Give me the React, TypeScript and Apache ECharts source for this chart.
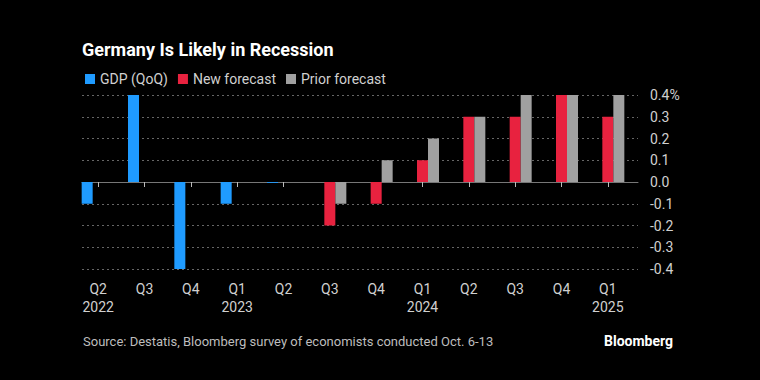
import React, { useEffect, useRef } from "react";
import * as echarts from "echarts";

const quarters = ["Q2", "Q3", "Q4", "Q1", "Q2", "Q3", "Q4", "Q1", "Q2", "Q3", "Q4", "Q1"];
const years = ["2022", "", "", "2023", "", "", "", "2024", "", "", "", "2025"];
const gdp: (number | null)[] = [-0.1, 0.4, -0.4, -0.1, -0.004, null, null, null, null, null, null, null];
const newForecast: (number | null)[] = [null, null, null, null, null, -0.2, -0.1, 0.1, 0.3, 0.3, 0.4, 0.3];
const priorForecast: (number | null)[] = [null, null, null, null, null, -0.1, 0.1, 0.2, 0.3, 0.4, 0.4, 0.4];

const BLUE = "#1f9bff";
const RED = "#e8223f";
const GRAY = "#a0a0a0";
const FONT = "Roboto, 'Noto Sans', sans-serif";

export default function App() {
  const ref = useRef<HTMLDivElement>(null);
  useEffect(() => {
    if (!ref.current) return;
    const chart = echarts.init(ref.current, null, { renderer: "svg" });
    const categories = quarters.map((q, i) => (years[i] ? q + "\n" + years[i] : q));
    chart.setOption({
      animation: false,
      backgroundColor: "#000",
      textStyle: { fontFamily: FONT },
      title: {
        text: "Germany Is Likely in Recession",
        left: 77,
        top: 35,
        textStyle: { color: "#fff", fontSize: 18, fontWeight: "bold", fontFamily: FONT },
      },
      legend: {
        left: 80,
        top: 67,
        icon: "rect",
        itemWidth: 10,
        itemHeight: 10,
        itemGap: 10,
        textStyle: { color: "#d0d0d0", fontSize: 14, fontFamily: FONT },
        data: ["GDP (QoQ)", "New forecast", "Prior forecast"],
      },
      grid: [
        { left: 75, right: 129, top: 95, bottom: 111 },
        { left: 82, right: 122, top: 95, bottom: 111 },
      ],
      xAxis: [
        {
          type: "category",
          gridIndex: 0,
          data: categories,
          axisLine: { show: false },
          axisTick: { show: true, alignWithLabel: true, length: 5, lineStyle: { color: "#bbb" } },
          axisLabel: { color: "#d0d0d0", fontSize: 14, lineHeight: 18, margin: 11, fontFamily: FONT },
        },
        {
          type: "value",
          gridIndex: 1,
          min: 0,
          max: 1,
          axisLine: { show: true, onZero: true, lineStyle: { color: "#777", width: 1 } },
          axisTick: { show: false },
          axisLabel: { show: false },
          splitLine: { show: false },
        },
      ],
      yAxis: [
        {
          type: "value",
          gridIndex: 0,
          min: -0.4,
          max: 0.4,
          interval: 0.1,
          show: false,
          splitLine: { show: false },
        },
        {
          type: "value",
          gridIndex: 1,
          position: "right",
          min: -0.4,
          max: 0.4,
          interval: 0.1,
          axisLine: { show: false },
          axisTick: { show: false },
          axisLabel: {
            color: "#d0d0d0",
            fontSize: 14,
            margin: 12,
            fontFamily: FONT,
            formatter: (v: number) => (Math.abs(v - 0.4) < 1e-9 ? "0.4%" : v.toFixed(1)),
          },
          splitLine: { show: true, lineStyle: { color: "#666", type: [2, 3], width: 1 } },
        },
      ],
      series: [
        {
          name: "GDP (QoQ)",
          type: "bar",
          xAxisIndex: 0,
          yAxisIndex: 0,
          data: gdp,
          barWidth: 11,
          barGap: "0%",
          itemStyle: { color: BLUE },
        },
        {
          name: "New forecast",
          type: "bar",
          xAxisIndex: 0,
          yAxisIndex: 0,
          data: newForecast,
          barWidth: 11,
          barGap: "0%",
          itemStyle: { color: RED },
        },
        {
          name: "Prior forecast",
          type: "bar",
          xAxisIndex: 0,
          yAxisIndex: 0,
          data: priorForecast,
          barWidth: 11,
          barGap: "0%",
          itemStyle: { color: GRAY },
        },
      ],
      graphic: [
        {
          type: "text",
          left: 83,
          top: 335,
          style: {
            text: "Source: Destatis, Bloomberg survey of economists conducted Oct. 6-13",
            fill: "#bdbdbd",
            fontSize: 13,
            fontFamily: FONT,
          },
        },
        {
          type: "text",
          right: 87,
          top: 334,
          style: { text: "Bloomberg", fill: "#fff", fontSize: 14, fontWeight: "bold", fontFamily: FONT },
        },
      ],
    });
    return () => chart.dispose();
  }, []);
  return <div ref={ref} style={{ width: 760, height: 380, position: "fixed", left: 0, top: 0 }} />;
}
